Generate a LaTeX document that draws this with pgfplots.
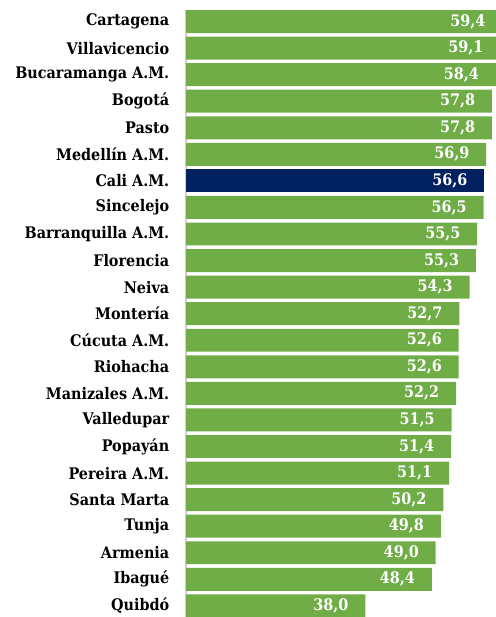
\documentclass[border=0pt]{standalone}
\usepackage{fontspec}
\setmainfont{DejaVu Serif}[FakeStretch=0.9]
\usepackage{pgfplots}
\pgfplotsset{compat=1.18}
\definecolor{bargreen}{HTML}{70AD47}
\definecolor{barnavy}{HTML}{002060}
\begin{document}
\begin{tikzpicture}
\begin{axis}[
  scale only axis,
  width=240.4pt, height=456.5pt,
  xbar, bar width=17.25pt, bar shift=0pt,
  xmin=10, xmax=60,
  ymin=-0.45, ymax=22.42,
  y dir=reverse,
  axis x line=none,
  axis y line=left,
  y axis line style={draw=black!18, line width=1.2pt, -},
  ytick={0,...,22},
  yticklabels={Cartagena,Villavicencio,Bucaramanga A.M.,Bogotá,Pasto,Medellín A.M.,Cali A.M.,Sincelejo,Barranquilla A.M.,Florencia,Neiva,Montería,Cúcuta A.M.,Riohacha,Manizales A.M.,Valledupar,Popayán,Pereira A.M.,Santa Marta,Tunja,Armenia,Ibagué,Quibdó},
  major tick length=0pt,
  yticklabel style={font=\fontsize{12}{14}\selectfont\bfseries, inner sep=0pt, xshift=-12.5pt},
  clip=false,
  point meta=x,
  nodes near coords={\pgfmathprintnumber[fixed,fixed zerofill,precision=1,use comma,assume math mode=true]{\pgfplotspointmeta}},
  nodes near coords style={anchor=east, inner sep=0pt, xshift=-12.5pt, font=\fontsize{12}{14}\selectfont\bfseries, text=white},
]
\addplot[fill=bargreen, draw=none] coordinates {
(59.4,0) (59.1,1) (58.4,2) (57.8,3) (57.8,4) (56.9,5) (56.5,7) (55.5,8) (55.3,9) (54.3,10) (52.7,11) (52.6,12) (52.6,13) (52.2,14) (51.5,15) (51.4,16) (51.1,17) (50.2,18) (49.8,19) (49.0,20) (48.4,21) (38.0,22)
};
\addplot[fill=barnavy, draw=none] coordinates {(56.6,6)};
\coordinate (tl) at (axis cs:10,-0.45);
\coordinate (br) at (axis cs:58.28,22.42);
\end{axis}
\pgfresetboundingbox
\path[use as bounding box] ([xshift=-139.9pt,yshift=7.2pt]tl) rectangle (br);
\end{tikzpicture}
\end{document}
